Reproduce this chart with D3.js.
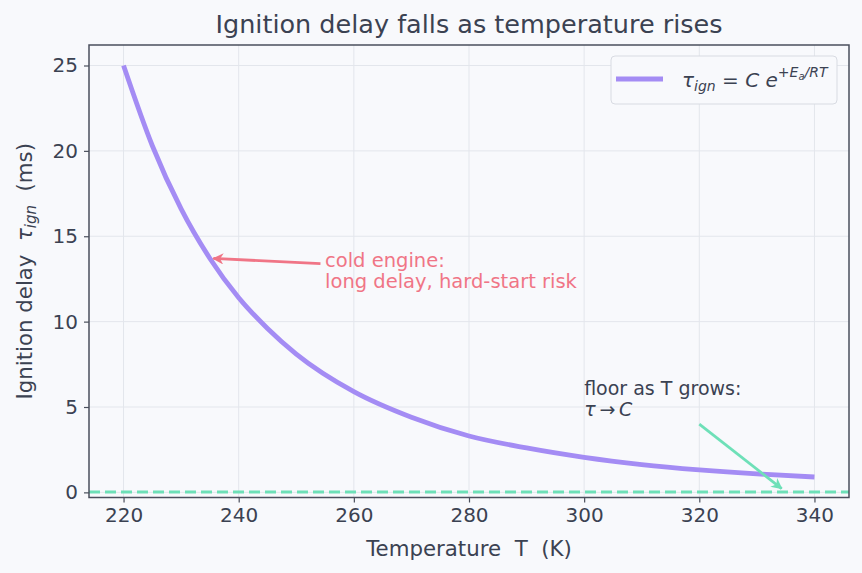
<!DOCTYPE html>
<html>
<head>
<meta charset="utf-8">
<script src="https://cdn.jsdelivr.net/npm/d3@7"></script>
<style>
  body { margin: 0; background: #f8f9fc; }
  svg { display: block; font-family: "DejaVu Sans", sans-serif; }
</style>
</head>
<body>
<script>
// values
var temps = [220, 225, 230, 235, 240, 245, 250, 260, 270, 280, 290, 300, 310, 320, 330, 340];
var delays = [25.0, 20.3, 16.6, 13.7, 11.4, 9.6, 8.1, 5.9, 4.4, 3.3, 2.6, 2.05, 1.63, 1.32, 1.08, 0.9];
var floorValue = 0.02;
var xTicks = [220, 240, 260, 280, 300, 320, 340];
var yTicks = [0, 5, 10, 15, 20, 25];

var w = 862, h = 573;
var pl = 89, pr = 849, pt = 45, pb = 497.5;
var ink = "#3b4252";

var svg = d3.select("body").append("svg")
  .attr("width", w)
  .attr("height", h);

svg.append("rect").attr("width", w).attr("height", h).attr("fill", "#f8f9fc");

var x = d3.scaleLinear().domain([214, 346]).range([pl, pr]);
var y = d3.scaleLinear().domain([-0.3, 26.2]).range([pb, pt]);

// grid
svg.append("g").selectAll("line").data(xTicks).enter().append("line")
  .attr("x1", function(d) { return x(d); })
  .attr("x2", function(d) { return x(d); })
  .attr("y1", pt).attr("y2", pb)
  .attr("stroke", "#e3e6ec").attr("stroke-width", 1);
svg.append("g").selectAll("line").data(yTicks).enter().append("line")
  .attr("y1", function(d) { return y(d); })
  .attr("y2", function(d) { return y(d); })
  .attr("x1", pl).attr("x2", pr)
  .attr("stroke", "#e3e6ec").attr("stroke-width", 1);

// axes
var xAxis = svg.append("g")
  .attr("transform", "translate(0," + pb + ")")
  .call(d3.axisBottom(x).tickValues(xTicks).tickSize(5).tickPadding(5));
var yAxis = svg.append("g")
  .attr("transform", "translate(" + pl + ",0)")
  .call(d3.axisLeft(y).tickValues(yTicks).tickSize(5).tickPadding(6));
[xAxis, yAxis].forEach(function(g) {
  g.select(".domain").remove();
  g.selectAll(".tick line").attr("stroke", "#4a4f5c").attr("stroke-width", 1.2);
  g.selectAll(".tick text").attr("fill", ink)
    .style("font-size", "20px").style("font-family", "DejaVu Sans");
});

// floor line
svg.append("line")
  .attr("x1", pl).attr("x2", pr)
  .attr("y1", y(floorValue)).attr("y2", y(floorValue))
  .attr("stroke", "#6ee0b8").attr("stroke-width", 3)
  .attr("stroke-dasharray", "11,5");

// curve
var line = d3.line()
  .x(function(d, i) { return x(temps[i]); })
  .y(function(d) { return y(d); })
  .curve(d3.curveMonotoneX);

svg.append("path")
  .datum(delays)
  .attr("d", line)
  .attr("fill", "none")
  .attr("stroke", "#a48cf4")
  .attr("stroke-width", 4.8);

// frame
svg.append("rect")
  .attr("x", pl).attr("y", pt)
  .attr("width", pr - pl).attr("height", pb - pt)
  .attr("fill", "none").attr("stroke", "#4a4f5c").attr("stroke-width", 1.5);

// arrow heads
var defs = svg.append("defs");
function marker(id, color) {
  defs.append("marker")
    .attr("id", id)
    .attr("viewBox", "0 0 10 10")
    .attr("refX", 9).attr("refY", 5)
    .attr("markerWidth", 4).attr("markerHeight", 4)
    .attr("orient", "auto")
    .append("path")
    .attr("d", "M0,0 L10,5 L0,10 L3,5 z")
    .attr("fill", color);
}
marker("arrRed", "#f07586");
marker("arrGreen", "#6ee0b8");

// cold engine note
svg.append("line")
  .attr("x1", x(254.2)).attr("y1", y(13.4))
  .attr("x2", x(235.6)).attr("y2", y(13.7))
  .attr("stroke", "#f07586").attr("stroke-width", 2.8)
  .attr("marker-end", "url(#arrRed)");
var cold = svg.append("text")
  .attr("x", x(255)).attr("y", y(13.4) + 3)
  .attr("fill", "#f07586")
  .style("font-size", "19.5px");
cold.append("tspan").attr("x", x(255)).attr("dy", 0).text("cold engine:");
cold.append("tspan").attr("x", x(255)).attr("dy", 21).text("long delay, hard-start risk");

// floor note
svg.append("line")
  .attr("x1", x(320)).attr("y1", y(4.0))
  .attr("x2", x(334.3)).attr("y2", y(0.22))
  .attr("stroke", "#6ee0b8").attr("stroke-width", 2.8)
  .attr("marker-end", "url(#arrGreen)");
var fl = svg.append("text")
  .attr("x", x(300)).attr("y", y(5.76) + 1)
  .attr("fill", ink)
  .style("font-size", "19px");
fl.append("tspan").attr("x", x(300)).attr("dy", 0).text("floor as T grows:");
var fl2 = fl.append("tspan").attr("x", x(300)).attr("dy", 21);
fl2.append("tspan").style("font-style", "italic").text("τ");
fl2.append("tspan").text("\u2009→\u2009");
fl2.append("tspan").style("font-style", "italic").text("C");

// legend
var lg = svg.append("g");
lg.append("rect")
  .attr("x", 611).attr("y", 56).attr("width", 226).attr("height", 48)
  .attr("rx", 4)
  .attr("fill", "#f8f9fc").attr("stroke", "#d8dbe2").attr("stroke-width", 1);
lg.append("line")
  .attr("x1", 616).attr("x2", 663).attr("y1", 79).attr("y2", 79)
  .attr("stroke", "#a48cf4").attr("stroke-width", 4.8);
var lt = lg.append("text").attr("x", 682).attr("y", 87).attr("fill", ink).style("font-size", "20px");
lt.append("tspan").style("font-style", "italic").text("τ");
lt.append("tspan").style("font-style", "italic").style("font-size", "14px").attr("dy", 4).text("ign");
lt.append("tspan").attr("dy", -4).text(" = ");
lt.append("tspan").style("font-style", "italic").text("C e");
lt.append("tspan").style("font-size", "14px").attr("dy", -10).text("+");
lt.append("tspan").style("font-size", "14px").style("font-style", "italic").text("E");
lt.append("tspan").style("font-size", "10px").style("font-style", "italic").attr("dy", 3).text("a");
lt.append("tspan").style("font-size", "14px").style("font-style", "italic").attr("dy", -3).text("/RT");

// title and labels
svg.append("text")
  .attr("x", 469).attr("y", 33)
  .attr("text-anchor", "middle")
  .attr("fill", ink)
  .style("font-size", "25.5px")
  .text("Ignition delay falls as temperature rises");

svg.append("text")
  .attr("x", 469).attr("y", 556)
  .attr("text-anchor", "middle")
  .attr("fill", ink)
  .style("font-size", "21.3px")
  .attr("xml:space", "preserve")
  .text("Temperature  T  (K)");

var yl = svg.append("text")
  .attr("transform", "translate(32," + ((pt + pb) / 2) + ") rotate(-90)")
  .attr("text-anchor", "middle")
  .attr("fill", ink)
  .style("font-size", "21.3px")
  .attr("xml:space", "preserve");
yl.append("tspan").text("Ignition delay  ");
yl.append("tspan").style("font-style", "italic").text("τ");
yl.append("tspan").style("font-style", "italic").style("font-size", "15px").attr("dy", 4).text("ign");
yl.append("tspan").attr("dy", -4).text("  (ms)");
</script>
</body>
</html>
